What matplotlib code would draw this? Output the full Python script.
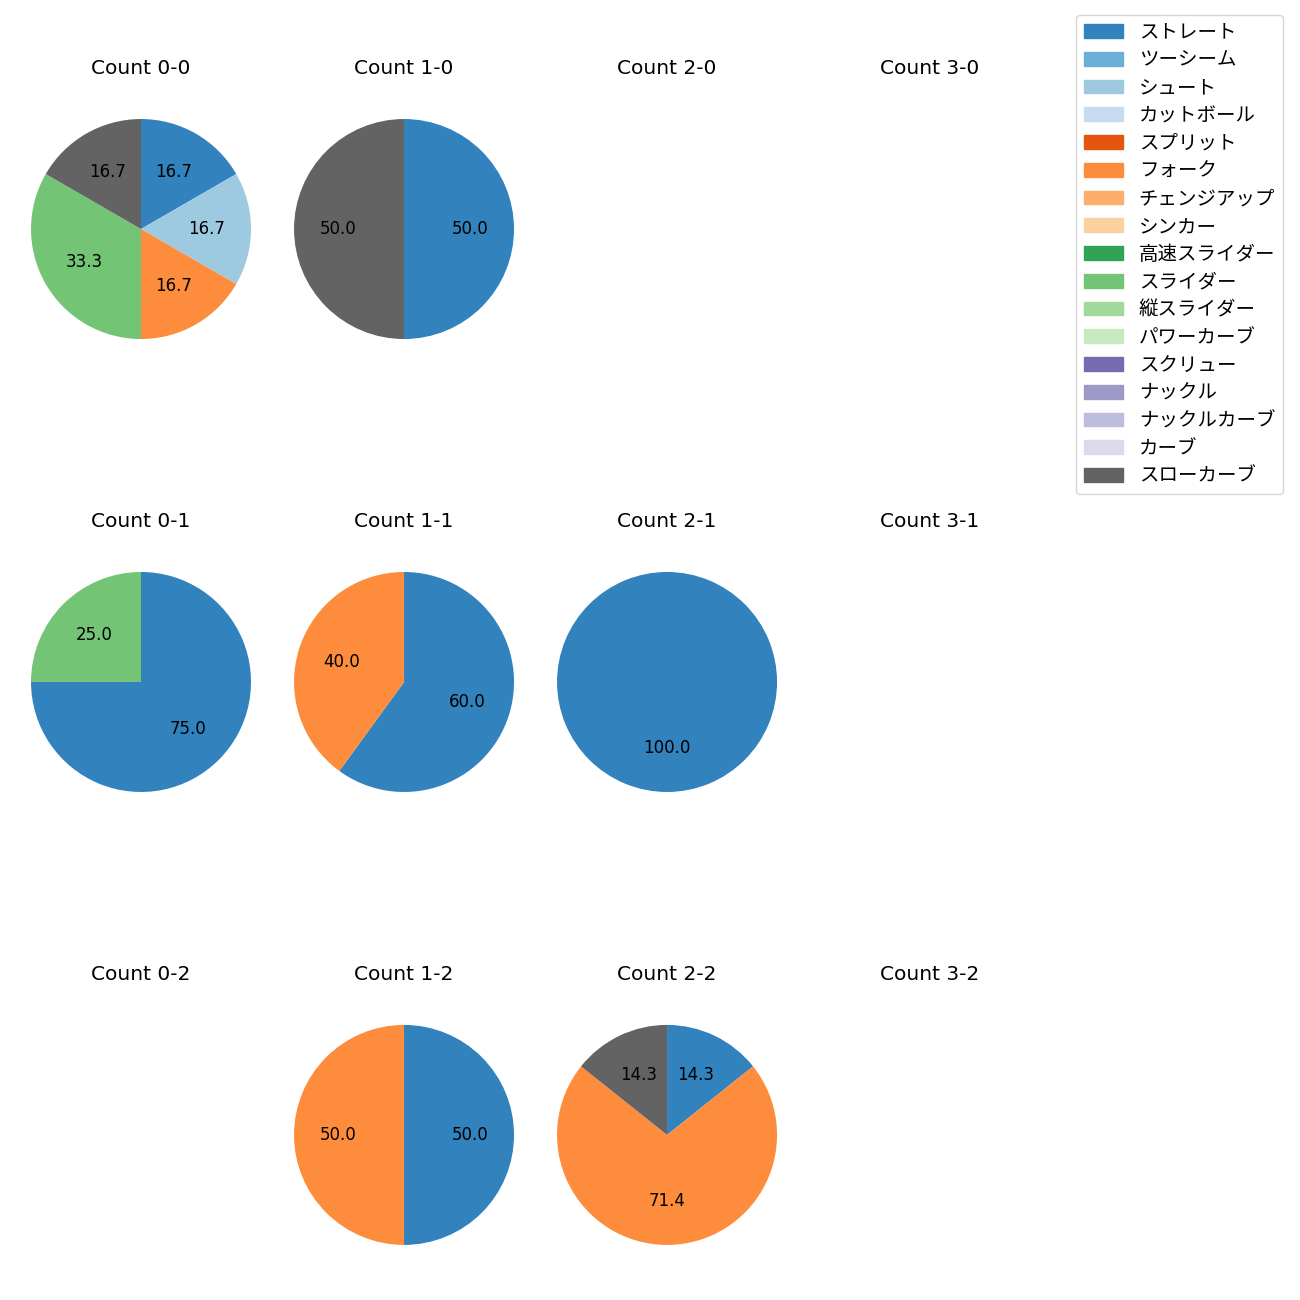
import numpy as np
import matplotlib
matplotlib.use('Agg')
import matplotlib.pyplot as plt
from matplotlib.patches import Patch

plt.rcParams['font.family'] = ['DejaVu Sans', 'Noto Sans CJK JP']

pitch_types = ['ストレート', 'ツーシーム', 'シュート', 'カットボール', 'スプリット',
               'フォーク', 'チェンジアップ', 'シンカー', '高速スライダー', 'スライダー',
               '縦スライダー', 'パワーカーブ', 'スクリュー', 'ナックル', 'ナックルカーブ',
               'カーブ', 'スローカーブ']
colors = [plt.cm.tab20c(i) for i in range(len(pitch_types))]

# 投球数 (ボール-ストライク)
counts = {
    (0, 0): {'ストレート': 1, 'シュート': 1, 'フォーク': 1, 'スライダー': 2, 'スローカーブ': 1},
    (1, 0): {'ストレート': 1, 'スローカーブ': 1},
    (0, 1): {'ストレート': 3, 'スライダー': 1},
    (1, 1): {'ストレート': 3, 'フォーク': 2},
    (2, 1): {'ストレート': 2},
    (1, 2): {'ストレート': 1, 'フォーク': 1},
    (2, 2): {'ストレート': 1, 'フォーク': 5, 'スローカーブ': 1},
}

fig, axes = plt.subplots(3, 4, figsize=(13, 13))
fig.subplots_adjust(left=0.0027, right=0.8212, top=0.9296, bottom=0.0212,
                    wspace=-0.0436, hspace=0.647)

for s in range(3):
    for b in range(4):
        ax = axes[s, b]
        ax.set_title(f'Count {b}-{s}', fontsize=14.5, pad=12.5)
        data = counts.get((b, s))
        if data is None:
            ax.axis('off')
            continue
        labels = [p for p in pitch_types if p in data]
        vals = [data[p] for p in labels]
        cols = [colors[pitch_types.index(p)] for p in labels]
        ax.pie(vals, colors=cols, autopct='%.1f', startangle=90, counterclock=False,
               textprops={'fontsize': 12})

handles = [Patch(color=c, label=p) for p, c in zip(pitch_types, colors)]
fig.legend(handles=handles, loc='upper right', fontsize=14, labelspacing=0.45,
           bbox_to_anchor=(0.9944, 0.9959))

fig.savefig('out.png', dpi=100)
